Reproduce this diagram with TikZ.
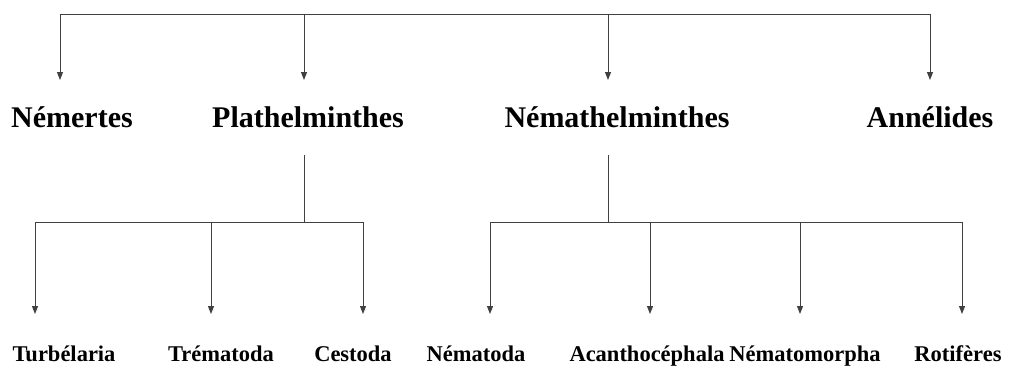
\documentclass[tikz,border=0pt]{standalone}
\usepackage{fontspec}
\setmainfont{Liberation Serif}
\usetikzlibrary{arrows.meta,positioning}

\begin{document}
\begin{tikzpicture}[x=1pt,y=-1pt,line width=1pt,
  >={Triangle[length=8pt,width=6pt]},
  link/.style={draw=black!75},
  phylum/.style={anchor=base,inner sep=0pt,font=\fontsize{30}{36}\selectfont\bfseries},
  classe/.style={anchor=base,inner sep=0pt,font=\fontsize{22.5}{26}\selectfont\bfseries}]
  \useasboundingbox (0,0) rectangle (1016,365);
  % embranchements
  \node[phylum] (nem) at (72,127)  {Némertes};
  \node[phylum] (pla) at (308,127) {Plathelminthes};
  \node[phylum] (nma) at (617,127) {Némathelminthes};
  \node[phylum] (ann) at (930,127) {Annélides};
  % classes
  \node[classe] (tur) at (64,361)  {Turbélaria};
  \node[classe] (tre) at (221,361) {Trématoda};
  \node[classe] (ces) at (353,361) {Cestoda};
  \node[classe] (nto) at (476,361) {Nématoda};
  \node[classe] (aca) at (647,361) {Acanthocéphala};
  \node[classe] (nmo) at (805,361) {Nématomorpha};
  \node[classe] (rot) at (958,361) {Rotifères};
  % points of the tree
  \coordinate (t_nem) at (60,14);  \coordinate (a_nem) at (60,80);
  \coordinate (t_pla) at (304,14); \coordinate (a_pla) at (304,80);
  \coordinate (t_nma) at (608,14); \coordinate (a_nma) at (608,80);
  \coordinate (t_ann) at (930,14); \coordinate (a_ann) at (930,80);
  \coordinate (v_pla) at (304,155); \coordinate (h_pla) at (304,222);
  \coordinate (v_nma) at (608,155); \coordinate (h_nma) at (608,222);
  \coordinate (b_tur) at (35,222);  \coordinate (a_tur) at (35,314);
  \coordinate (b_tre) at (211,222); \coordinate (a_tre) at (211,314);
  \coordinate (b_ces) at (363,222); \coordinate (a_ces) at (363,314);
  \coordinate (b_nto) at (490,222); \coordinate (a_nto) at (490,314);
  \coordinate (b_aca) at (650,222); \coordinate (a_aca) at (650,314);
  \coordinate (b_nmo) at (800,222); \coordinate (a_nmo) at (800,314);
  \coordinate (b_rot) at (962,222); \coordinate (a_rot) at (962,314);
  \draw[link] (t_nem) -- (t_ann);
  \draw[link] (v_pla) -- (h_pla);
  \draw[link] (b_tur) -- (b_ces);
  \draw[link] (v_nma) -- (h_nma);
  \draw[link] (b_nto) -- (b_rot);
  \path[every edge/.style={link,->}]
  (t_nem) edge (a_nem)
  (t_pla) edge (a_pla)
  (t_nma) edge (a_nma)
  (t_ann) edge (a_ann)
  (b_tur) edge (a_tur)
  (b_tre) edge (a_tre)
  (b_ces) edge (a_ces)
  (b_nto) edge (a_nto)
  (b_aca) edge (a_aca)
  (b_nmo) edge (a_nmo)
  (b_rot) edge (a_rot)
  ;
\end{tikzpicture}
\end{document}
